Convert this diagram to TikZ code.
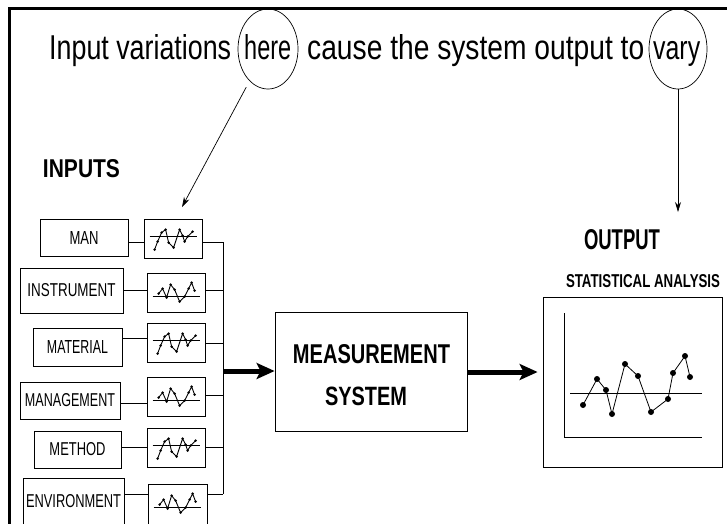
\documentclass[tikz,border=0pt]{standalone}
\usepackage{fontspec}
\setmainfont{Liberation Sans}
\usetikzlibrary{arrows.meta,shapes.geometric,calc}
\newcommand{\fitt}[3]{\resizebox{#1pt}{#2pt}{#3}}
\tikzset{
  lbox/.style={draw, line width=0.8pt, rectangle, inner sep=0pt},
  txt/.style={inner sep=0pt},
  thinline/.style={line width=0.8pt},
  zig/.style={line width=0.9pt, line join=round},
  bigarrow/.style={line width=5pt, -{Stealth[length=18pt,width=16pt,inset=4pt]}},
  callout/.style={line width=0.7pt, -{Stealth[length=10pt,width=6pt]}},
  oval/.style={draw, ellipse, line width=0.7pt, inner sep=0pt},
}
\newcommand{\miniA}[1]{%
  \begin{scope}[shift={(#1.north west)}]
    \draw[line width=1pt] (6,18) -- (53,18);
    \draw[zig] (11,31) -- (14,23) -- (18,14) -- (22,11) -- (25,24) -- (30,29) -- (36,11) -- (39,17) -- (41,23) -- (44,18) -- (49,13);
    \foreach \x/\y in {11/31,14/23,18/14,22/11,25/24,30/29,36/11,39/17,41/23,44/18,49/13}
      \fill (\x,\y) circle (1.4pt);
  \end{scope}}
\newcommand{\miniB}[1]{%
  \begin{scope}[shift={(#1.north west)}]
    \draw[line width=1pt] (6,24) -- (53,24);
    \draw[zig] (12,21) -- (16,16) -- (20,25) -- (24,12) -- (28,17) -- (33,29) -- (38,24) -- (42,16) -- (45,10) -- (48,18);
    \foreach \x/\y in {12/21,16/16,20/25,24/12,28/17,33/29,38/24,42/16,45/10,48/18}
      \fill (\x,\y) circle (1.4pt);
  \end{scope}}
\begin{document}
\begin{tikzpicture}[x=1pt,y=-1pt]
\useasboundingbox (0,0) rectangle (727,523);
% frame
\draw[line width=3pt, line join=miter] (9.5,530) -- (9.5,8) -- (730,8);

% title
\node[txt, anchor=base west] (t1) at (49,59) {\fitt{182}{25}{Input variations}};
\node[txt, anchor=base west] (t2) at (244,59) {\fitt{47}{25}{here}};
\node[txt, anchor=base west] (t3) at (307,59) {\fitt{337}{25}{cause the system output to}};
\node[txt, anchor=base west] (t4) at (653,59) {\fitt{47}{18.1}{vary}};
\node[oval, minimum width=60pt, minimum height=80pt] (hereE) at (268,49) {};
\node[oval, minimum width=58pt, minimum height=80pt] (varyE) at (678,49) {};
\coordinate (hereTip) at (182,207);
\coordinate (varyTip) at (678,212);
\draw[callout, shorten <=7pt] (hereE.240) -- (hereTip);
\draw[callout] (varyE.south) -- (varyTip);

% inputs
\node[txt] (inputs) at (81.5,169) {\fitt{77}{18}{\bfseries INPUTS}};

\node[lbox, minimum width=88pt, minimum height=37pt] (l1) at (84,237.5) {\fitt{29}{13}{MAN}};
\node[lbox, minimum width=103pt, minimum height=45pt] (l2) at (71.5,290.5) {\fitt{88}{13}{INSTRUMENT}};
\node[lbox, minimum width=89pt, minimum height=38pt] (l3) at (77.5,347) {\fitt{61}{13}{MATERIAL}};
\node[lbox, minimum width=100pt, minimum height=37pt] (l4) at (70,400.5) {\fitt{90}{13}{MANAGEMENT}};
\node[lbox, minimum width=87pt, minimum height=37pt] (l5) at (77.5,449.5) {\fitt{56}{13}{METHOD}};
\node[lbox, minimum width=101pt, minimum height=50pt] (l6) at (73.5,503) {\raisebox{4pt}{\fitt{95}{13}{ENVIRONMENT}}};

\node[lbox, minimum width=58pt, minimum height=39pt] (c1) at (173,238.5) {};
\node[lbox, minimum width=58pt, minimum height=39pt] (c2) at (176,292.5) {};
\node[lbox, minimum width=58pt, minimum height=39pt] (c3) at (176,342.5) {};
\node[lbox, minimum width=58pt, minimum height=39pt] (c4) at (176,396.5) {};
\node[lbox, minimum width=58pt, minimum height=39pt] (c5) at (176,447.5) {};
\node[lbox, minimum width=59pt, minimum height=41pt] (c6) at (177.5,504.5) {};
\miniA{c1}\miniB{c2}\miniA{c3}\miniB{c4}\miniA{c5}\miniB{c6}

% label -> chart
\draw[thinline] (l1.east |- 0,242) -- (c1.west |- 0,242);
\draw[thinline] (l2.east |- 0,290) -- (c2.west |- 0,290);
\draw[thinline] (l3.east |- 0,338) -- (c3.west |- 0,338);
\draw[thinline] (l4.east |- 0,403) -- (c4.west |- 0,403);
\draw[thinline] (l5.east |- 0,447) -- (c5.west |- 0,447);
\draw[thinline] (l6.east |- 0,494) -- (c6.west |- 0,494);

% bus
\coordinate (busTop) at (223,242);
\coordinate (busBot) at (223,494);
\coordinate (busMid) at (223,371);
\draw[thinline] (busTop) -- (busBot);
\draw[thinline] (c1.east |- 0,242) -- (busTop);
\draw[thinline] (c2.east |- 0,290) -- (busTop |- 0,290);
\draw[thinline] (c3.east |- 0,343) -- (busTop |- 0,343);
\draw[thinline] (c4.east |- 0,395) -- (busTop |- 0,395);
\draw[thinline] (c5.east |- 0,447) -- (busTop |- 0,447);
\draw[thinline] (c6.east |- 0,494) -- (busBot);

% measurement system
\node[lbox, minimum width=192pt, minimum height=119pt] (meas) at (371,371.5) {};
\node[txt] (measT1) at (371.5,354.5) {\fitt{157}{19}{\bfseries MEASUREMENT}};
\node[txt] (measT2) at (366,396) {\fitt{82}{18.5}{\bfseries SYSTEM}};
\draw[bigarrow] (busMid) -- (meas.west |- 0,371);

% output
\node[txt] (outT) at (622,240) {\fitt{76}{20}{\bfseries OUTPUT}};
\node[txt] (statT) at (643,281.5) {\fitt{154}{13}{\bfseries STATISTICAL ANALYSIS}};
\node[lbox, minimum width=179pt, minimum height=170pt] (outbox) at (632.5,382) {};
\draw[bigarrow, shorten >=5pt] (meas.east |- 0,372) -- (outbox.west |- 0,372);

\draw[thinline] (564,313) -- (564,437) -- (702,437);
\draw[thinline] (570,393) -- (702,393);
\draw[line width=0.8pt] (583,405) -- (597,379) -- (606,390) -- (612,414) -- (625,364) -- (638,376) -- (651,412) -- (668,399) -- (673,373) -- (685,356) -- (690,377);
\foreach \x/\y in {583/405,597/379,606/390,612/414,625/364,638/376,651/412,668/399,673/373,685/356,690/377}
  \fill (\x,\y) circle (3pt);
\end{tikzpicture}
\end{document}
